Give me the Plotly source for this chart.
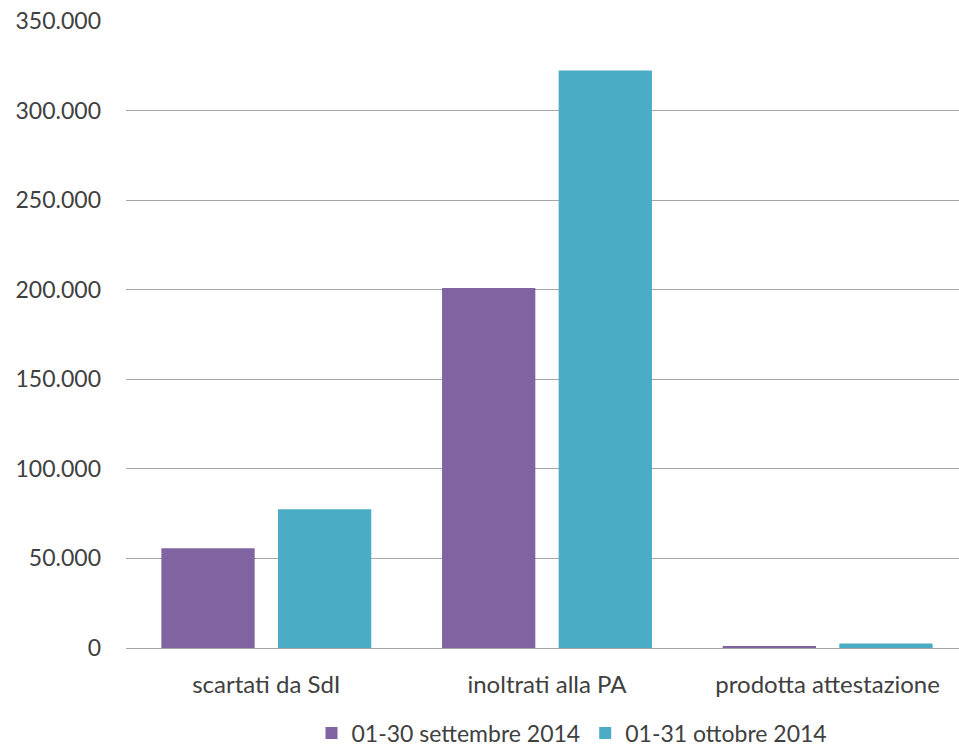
import plotly.graph_objects as go

categories = ["scartati da SdI", "inoltrati alla PA", "prodotta attestazione"]
series_names = ["01-30 settembre 2014", "01-31 ottobre 2014"]
settembre = [55700, 200900, 1000]
ottobre = [77500, 322400, 2500]
colors = ["#8064A2", "#4BACC6"]
yticks = [0, 50000, 100000, 150000, 200000, 250000, 300000, 350000]

font_family = "Lato, 'Open Sans', sans-serif"
text_color = "#404040"

fig = go.Figure()
for name, vals, col in zip(series_names, [settembre, ottobre], colors):
    fig.add_trace(go.Bar(x=categories, y=vals, name=name,
                         marker=dict(color=col, line=dict(width=0))))

fig.update_layout(
    width=959, height=747,
    margin=dict(l=126, r=0, t=21, b=99),
    paper_bgcolor="white", plot_bgcolor="white",
    separators=",.",
    barmode="group", bargap=0.169, bargroupgap=0.2,
    font=dict(family=font_family, size=24, color=text_color),
    showlegend=True,
    legend=dict(orientation="h", xref="container", yref="container",
                x=572 / 959, xanchor="center", y=14 / 747, yanchor="middle",
                font=dict(size=23, color=text_color), itemclick=False),
    xaxis=dict(range=[-0.5, 2.468], showgrid=False, showline=False, ticks="",
               automargin=False,
               tickfont=dict(size=24, color=text_color), ticklabelstandoff=20),
    yaxis=dict(range=[0, 350000], tickvals=yticks, tickformat=",d",
               automargin=False,
               showgrid=True, gridcolor="#A6A6A6", gridwidth=1.3,
               zeroline=True, zerolinecolor="#A6A6A6", zerolinewidth=1.3,
               showline=False, ticks="", ticklabelstandoff=24,
               tickfont=dict(size=23, color=text_color)),
)

fig.write_html("out.html", config={"displayModeBar": False},
               post_script="document.body.style.margin='0px';")
